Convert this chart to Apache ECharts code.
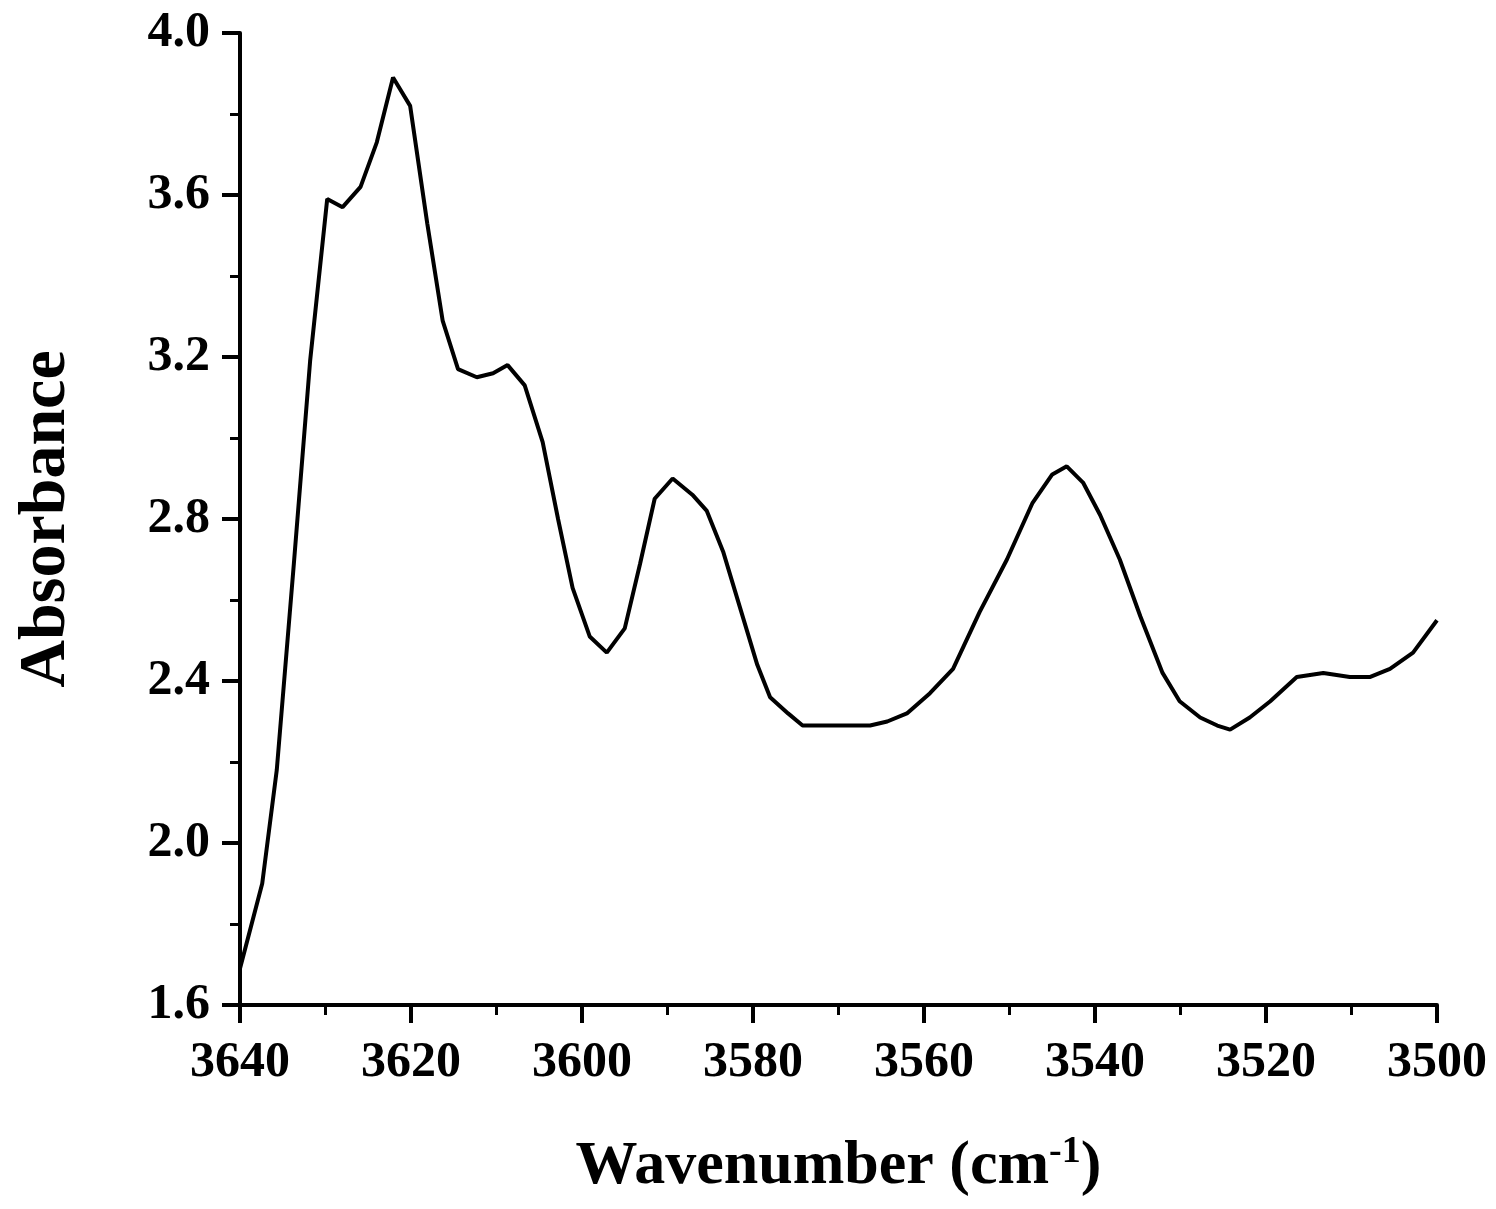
<!DOCTYPE html>
<html>
<head>
<meta charset="utf-8">
<script src="https://cdn.jsdelivr.net/npm/echarts@6/dist/echarts.min.js"></script>
<style>
  html, body { margin: 0; padding: 0; background: #fff; }
  #chart { width: 1496px; height: 1209px; }
</style>
</head>
<body>
<div id="chart"></div>
<script>
// wavenumber (cm-1) and absorbance
var wavenumber = [
  3640.0, 3637.4, 3635.7, 3633.7, 3631.8, 3629.8, 3628.0, 3625.9, 3624.0, 3622.1,
  3620.1, 3618.1, 3616.3, 3614.5, 3612.3, 3610.4, 3608.7, 3606.7, 3604.6, 3602.8,
  3601.1, 3599.1, 3597.1, 3595.0, 3593.2, 3591.5, 3589.4, 3587.1, 3585.4, 3583.5,
  3581.5, 3579.5, 3578.0, 3575.9, 3574.2, 3572.2, 3570.2, 3568.3, 3566.3, 3564.3,
  3562.0, 3559.3, 3556.6, 3553.5, 3550.3, 3547.3, 3545.0, 3543.3, 3541.4, 3539.4,
  3537.1, 3534.7, 3532.1, 3530.1, 3527.7, 3525.7, 3524.2, 3521.9, 3519.5, 3516.4,
  3513.3, 3510.2, 3507.8, 3505.5, 3502.8, 3500.0
];
var absorbance = [
  1.69, 1.90, 2.18, 2.69, 3.19, 3.59, 3.57, 3.62, 3.73, 3.89,
  3.82, 3.53, 3.29, 3.17, 3.15, 3.16, 3.18, 3.13, 2.99, 2.80,
  2.63, 2.51, 2.47, 2.53, 2.69, 2.85, 2.90, 2.86, 2.82, 2.72,
  2.58, 2.44, 2.36, 2.32, 2.29, 2.29, 2.29, 2.29, 2.29, 2.30,
  2.32, 2.37, 2.43, 2.57, 2.70, 2.84, 2.91, 2.93, 2.89, 2.81,
  2.70, 2.56, 2.42, 2.35, 2.31, 2.29, 2.28, 2.31, 2.35, 2.41,
  2.42, 2.41, 2.41, 2.43, 2.47, 2.55
];

var points = wavenumber.map(function (w, i) { return [w, absorbance[i]]; });

var font = '"Liberation Serif", "Times New Roman", serif';
var myChart = echarts.init(document.getElementById('chart'));

var option = {
  animation: false,
  backgroundColor: '#fff',
  grid: {
    left: 240,
    right: 59,
    top: 33,
    bottom: 204
  },
  xAxis: {
    type: 'value',
    min: 3500,
    max: 3640,
    interval: 20,
    inverse: true,
    name: 'Wavenumber (cm{sup|-1})',
    nameLocation: 'middle',
    nameGap: 128,
    nameTextStyle: {
      fontFamily: font,
      fontWeight: 'bold',
      fontSize: 62,
      color: '#000',
      rich: {
        sup: {
          fontFamily: font,
          fontWeight: 'bold',
          fontSize: 38,
          color: '#000',
          verticalAlign: 'top',
          padding: [0, 0, 30, 0]
        }
      }
    },
    axisLine: { lineStyle: { color: '#000', width: 4 } },
    axisTick: { length: 18, lineStyle: { color: '#000', width: 4 } },
    minorTick: { show: true, splitNumber: 2, length: 10, lineStyle: { color: '#000', width: 3 } },
    splitLine: { show: false },
    axisLabel: {
      margin: 33,
      fontFamily: font,
      fontWeight: 'bold',
      fontSize: 50,
      color: '#000',
      formatter: function (v) { return String(v); }
    }
  },
  yAxis: {
    type: 'value',
    min: 1.6,
    max: 4.0,
    interval: 0.4,
    name: 'Absorbance',
    nameLocation: 'middle',
    nameGap: 160,
    nameTextStyle: {
      fontFamily: font,
      fontWeight: 'bold',
      fontSize: 66,
      color: '#000'
    },
    axisLine: { show: true, lineStyle: { color: '#000', width: 4 } },
    axisTick: { show: true, length: 18, lineStyle: { color: '#000', width: 4 } },
    minorTick: { show: true, splitNumber: 2, length: 10, lineStyle: { color: '#000', width: 3 } },
    splitLine: { show: false },
    axisLabel: {
      margin: 30,
      fontFamily: font,
      fontWeight: 'bold',
      fontSize: 50,
      color: '#000',
      formatter: function (v) { return v.toFixed(1); }
    }
  },
  series: [
    {
      type: 'line',
      data: points,
      showSymbol: false,
      smooth: false,
      clip: true,
      lineStyle: { color: '#000', width: 4 }
    }
  ]
};

myChart.setOption(option);
</script>
</body>
</html>
